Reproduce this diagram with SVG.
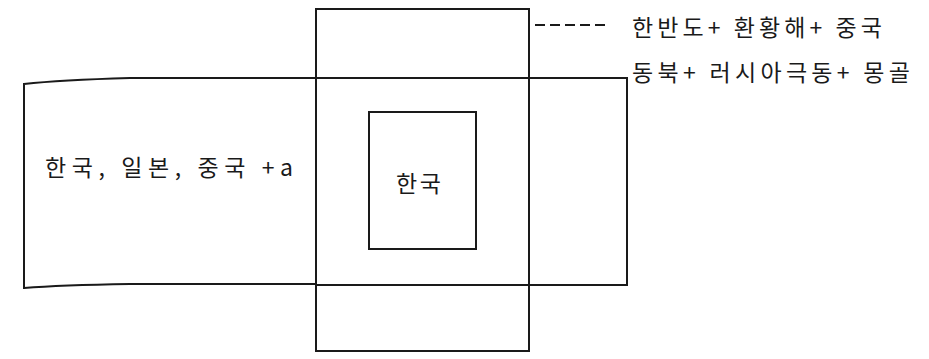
<svg xmlns="http://www.w3.org/2000/svg" width="929" height="359" viewBox="0 0 929 359">
<style>
.ln{fill:none;stroke:#1a1a1a;stroke-width:2}
.t{font-family:"Noto Sans CJK KR","Noto Sans",sans-serif;font-size:23px;fill:#1a1a1a}
</style>
<rect width="929" height="359" fill="#ffffff"/>
<g id="vertical-region">
<rect class="ln" x="316" y="9" width="213" height="342"/>
</g>
<g id="horizontal-region">
<path class="ln" d="M 316 78 L 627 78 L 627 285 L 316 285"/>
<path class="ln" d="M 316 78 L 130 78 Q 60 80 24 84 L 24 288 Q 60 285 130 284 L 316 284"/>
<text class="t" x="45" y="176" textLength="248" lengthAdjust="spacing">한국, 일본, 중국 +a</text>
</g>
<g id="korea">
<rect class="ln" x="369" y="112" width="107" height="137"/>
<text class="t" x="396" y="192" textLength="45" lengthAdjust="spacing">한국</text>
</g>
<g id="connectors">
<line class="ln" x1="535" y1="25" x2="610" y2="25" stroke-width="1.5" stroke-dasharray="10,5"/>
</g>
<g id="label">
<text class="t" x="632" y="36" textLength="250" lengthAdjust="spacing">한반도+ 환황해+ 중국</text>
<text class="t" x="632" y="81" textLength="278" lengthAdjust="spacing">동북+ 러시아극동+ 몽골</text>
</g>
</svg>
